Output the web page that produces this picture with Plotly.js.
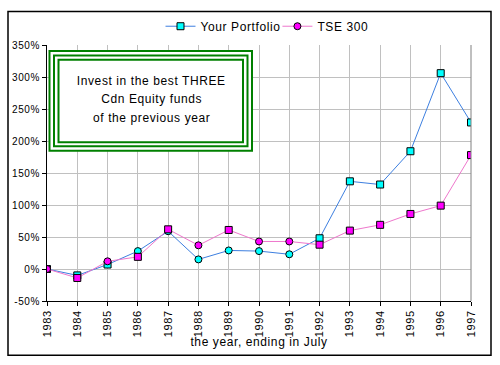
<!DOCTYPE html>
<html>
<head>
<meta charset="utf-8">
<script src="https://cdn.plot.ly/plotly-3.0.1.min.js"></script>
<style>
html,body{margin:0;padding:0;background:#fff;}
#chart{width:500px;height:365px;}
#chart text{letter-spacing:0.6px;}
</style>
</head>
<body>
<div id="chart"></div>
<script>
// ---- data ----
const years = [1983,1984,1985,1986,1987,1988,1989,1990,1991,1992,1993,1994,1995,1996,1997];
const portfolio = [0,-10,7,28,59,15,29,28,23,48,137,132,184,306,229];
const tse300 = [0,-14,12,19,62,37,61,43,43,38,60,69,86,99,178];
const seriesNames = ["Your Portfolio","TSE 300"];
const yTicks = [-50,0,50,100,150,200,250,300,350];
const xTitle = "the year, ending in July";
const boxLines = ["Invest in the best THREE","Cdn Equity funds","of the previous year"];

// ---- layout helpers (pixel -> paper) ----
const L = 47, R = 471, T = 42, B = 301;
const px = x => (x - L) / (R - L);
const py = y => (B - y) / (B - T);

const font = "Liberation Sans, Arial, sans-serif";

const pSym = ['square','square','square','circle','circle','circle','circle','circle','circle','square','square','square','square','square','square'];
const tSym = ['circle','square','circle','square','square','circle','square','circle','circle','square','square','square','square','square','square'];

const traces = [
  {x: years, y: portfolio, name: seriesNames[0], type: 'scatter', mode: 'lines+markers',
   line: {color: '#3d7fe0', width: 1},
   marker: {color: '#00ffff', size: 7, symbol: pSym, line: {color: '#000', width: 1}}},
  {x: years, y: tse300, name: seriesNames[1], type: 'scatter', mode: 'lines+markers',
   line: {color: '#ee77cc', width: 1},
   marker: {color: '#ff00ff', size: 7, symbol: tSym, line: {color: '#000', width: 1}}}
];

function rect(x0,y0,x1,y1,fill){
  return {type:'rect', xref:'paper', yref:'paper', x0:px(x0), x1:px(x1), y0:py(y1), y1:py(y0),
          line:{color:'#008000', width:2}, fillcolor: fill || 'rgba(0,0,0,0)', layer:'above'};
}

const layout = {
  width: 500, height: 365,
  margin: {l: L, r: 500 - R, t: T, b: 365 - B, pad: 0},
  paper_bgcolor: '#fff', plot_bgcolor: '#fff',
  font: {family: font, color: '#000', size: 10},
  showlegend: true,
  legend: {orientation: 'h', x: px(265), xanchor: 'center', y: py(23), yanchor: 'middle',
           font: {size: 12, family: font}, bgcolor: 'rgba(0,0,0,0)', itemwidth: 30},
  xaxis: {range: [years[0], years[years.length-1]], dtick: 1, tick0: years[0],
          tickangle: -90, tickfont: {size: 11, family: font},
          showgrid: true, gridcolor: '#c0c0c0', gridwidth: 1,
          showline: true, linecolor: '#000', linewidth: 1,
          ticks: 'outside', ticklen: 4, tickcolor: '#000',
          zeroline: false, fixedrange: true,
          title: {text: xTitle, font: {size: 12, family: font}, standoff: 3}},
  yaxis: {range: [-50, 350], tickvals: yTicks, ticktext: yTicks.map(v => v + '%'),
          tickfont: {size: 10, family: font},
          showgrid: true, gridcolor: '#c0c0c0', gridwidth: 1,
          showline: true, linecolor: '#000', linewidth: 1,
          ticks: 'outside', ticklen: 4, tickcolor: '#000',
          zeroline: false, fixedrange: true},
  shapes: [
    {type:'rect', xref:'paper', yref:'paper', x0:px(8), x1:px(491), y0:py(356), y1:py(8),
     line:{color:'#000', width:1.5}, fillcolor:'rgba(0,0,0,0)', layer:'below'},
    {type:'line', xref:'paper', yref:'paper', x0:1, x1:1, y0:0, y1:1,
     line:{color:'#808080', width:1}, layer:'above'},
    rect(49.5,48,252,149,'#fff'),
    rect(54,52.5,247.5,144.5),
    rect(58.5,57,243,140.5)
  ],
  annotations: boxLines.map((t,i) => ({
    xref:'paper', yref:'paper', x: px(151), y: py(78 + i*19), text: t, showarrow: false,
    xanchor:'center', yanchor:'middle', font:{size:12, family:font, color:'#000'}
  }))
};

Plotly.newPlot('chart', traces, layout, {displayModeBar: false, staticPlot: true});
</script>
</body>
</html>
